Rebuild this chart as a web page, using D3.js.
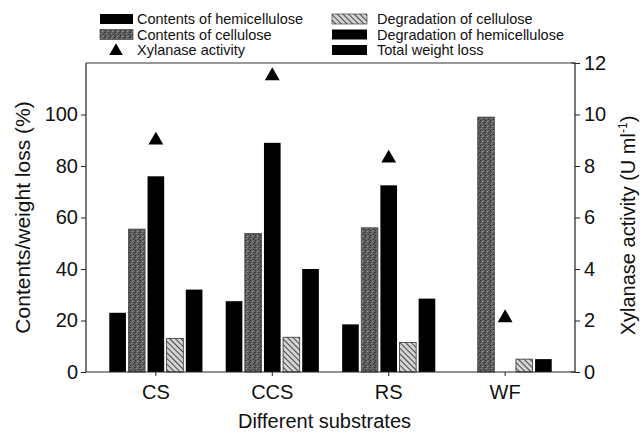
<!DOCTYPE html>
<html><head><meta charset="utf-8">
<script src="https://cdn.jsdelivr.net/npm/d3@7"></script>
<style>body{margin:0;background:#fff}svg{display:block;font-family:"Liberation Sans",Arial,sans-serif}</style>
</head><body><svg id="c" width="643" height="435"></svg>
<script>
const categories = ["CS","CCS","RS","WF"];
const hemiContent = [23, 27.5, 18.5, 0];
const celluloseContent = [55.5, 53.8, 56, 99];
const hemiDegradation = [76, 89, 72.5, 0];
const celluloseDegradation = [13, 13.5, 11.5, 5];
const totalWeightLoss = [32, 40, 28.5, 5];
const xylanase = [9.0, 11.5, 8.3, 2.1];
const leftTicks = [0,20,40,60,80,100];
const rightTicks = [0,2,4,6,8,10,12];

const seriesNames = ["Contents of hemicellulose","Contents of cellulose","Degradation of hemicellulose","Degradation of cellulose","Total weight loss"];
const seriesVals = [hemiContent, celluloseContent, hemiDegradation, celluloseDegradation, totalWeightLoss];
const seriesFill = ["#000","url(#stip)","#000","url(#hatch)","#000"];

const svg = d3.select("#c");
const L = 86, R = 575, T = 63, B = 372;

const defs = svg.append("defs");
const st = defs.append("pattern").attr("id","stip").attr("patternUnits","userSpaceOnUse").attr("width",5).attr("height",5);
st.append("rect").attr("width",5).attr("height",5).attr("fill","#5e5e5e");
[[0,0,"#2a2a2a"],[2,1,"#9a9a9a"],[4,2,"#333"],[1,3,"#8a8a8a"],[3,4,"#303030"],[3,0,"#7a7a7a"],[0,2,"#444"]].forEach(p=>{
  st.append("rect").attr("x",p[0]).attr("y",p[1]).attr("width",1).attr("height",1).attr("fill",p[2]);
});
const ht = defs.append("pattern").attr("id","hatch").attr("patternUnits","userSpaceOnUse").attr("width",4).attr("height",4).attr("patternTransform","rotate(-45)");
ht.append("rect").attr("width",4).attr("height",4).attr("fill","#d4d4d4");
ht.append("line").attr("x1",0).attr("y1",0).attr("x2",0).attr("y2",4).attr("stroke","#222").attr("stroke-width",1.6);

const x = d3.scaleBand().domain(categories).range([L,R]).paddingInner(0.2).paddingOuter(0.2);
const xs = d3.scaleBand().domain(d3.range(5)).range([0,x.bandwidth()]).paddingInner(0.13);
const y = d3.scaleLinear().domain([0,120]).range([B,T]);
const y2 = d3.scaleLinear().domain([0,12]).range([B,T]);

// bars
const g = svg.append("g");
categories.forEach((c,ci)=>{
  seriesVals.forEach((vals,si)=>{
    const v = vals[ci];
    if(v<=0) return;
    g.append("rect").attr("x",x(c)+xs(si)).attr("width",xs.bandwidth())
      .attr("y",y(v)).attr("height",y(0)-y(v)).attr("fill",seriesFill[si])
      .attr("stroke", si===3 ? "#333" : (si===1?"#444":"none")).attr("stroke-width",0.8);
  });
});

// triangles
const tri = d3.symbol().type(d3.symbolTriangle).size(95);
categories.forEach((c,ci)=>{
  svg.append("path").attr("d",tri).attr("fill","#000")
    .attr("transform",`translate(${x(c)+x.bandwidth()/2},${y2(xylanase[ci])})`);
});

// axes
const fs = "20px";
const ax = svg.append("g").attr("transform",`translate(${L},0)`).call(d3.axisLeft(y).tickValues(leftTicks).tickSize(5).tickPadding(3));
const ax2 = svg.append("g").attr("transform",`translate(${R},0)`).call(d3.axisRight(y2).tickValues(rightTicks).tickSize(5).tickPadding(4));
const axb = svg.append("g").attr("transform",`translate(0,${B})`).call(d3.axisBottom(x).tickSize(4).tickPadding(9));
[ax,ax2,axb].forEach(a=>{
  a.selectAll("text").attr("font-size",fs).attr("font-family","Liberation Sans, Arial, sans-serif").attr("fill","#111");
  a.selectAll("line").attr("stroke","#222");
  a.select(".domain").attr("stroke","#222").attr("stroke-width",1.2);
});
ax.select(".domain").attr("d",`M0,${B}V${T}`);
ax2.select(".domain").attr("d",`M-4,${T}H0V${B}H-4`);
axb.select(".domain").attr("d",`M${L},0H${R}`);
svg.append("line").attr("x1",L).attr("x2",R).attr("y1",T).attr("y2",T).attr("stroke","#333").attr("stroke-width",1);

// titles
svg.append("text").attr("transform",`translate(30,${(T+B)/2}) rotate(-90)`).attr("text-anchor","middle")
  .attr("font-size","21px").attr("fill","#111").text("Contents/weight loss (%)");
const rt = svg.append("text").attr("transform",`translate(635,${(T+B)/2+8}) rotate(-90)`).attr("text-anchor","middle")
  .attr("font-size","20px").attr("fill","#111");
rt.append("tspan").text("Xylanase activity (U ml");
rt.append("tspan").attr("font-size","12px").attr("dy","-8").text("-1");
rt.append("tspan").attr("dy","8").text(")");
svg.append("text").attr("x",(L+R)/2-6).attr("y",428).attr("text-anchor","middle").attr("font-size","20px").attr("fill","#111").text("Different substrates");

// legend
const legend = [
  {name:"Contents of hemicellulose", type:"bar", fill:"#000", col:0, row:0},
  {name:"Contents of cellulose", type:"bar", fill:"url(#stip)", col:0, row:1},
  {name:"Xylanase activity", type:"tri", col:0, row:2},
  {name:"Degradation of cellulose", type:"bar", fill:"url(#hatch)", col:1, row:0},
  {name:"Degradation of hemicellulose", type:"bar", fill:"#000", col:1, row:1},
  {name:"Total weight loss", type:"bar", fill:"#000", col:1, row:2}
];
const colX = [100, 332], colText = [137, 377], rowY = [19, 34.5, 50];
legend.forEach(d=>{
  const gx = colX[d.col], gy = rowY[d.row];
  if(d.type==="bar"){
    svg.append("rect").attr("x",gx).attr("y",gy-5).attr("width",d.col?35:33).attr("height",10).attr("fill",d.fill)
      .attr("stroke", d.fill==="#000"?"none":"#444").attr("stroke-width",0.7);
  } else {
    svg.append("path").attr("d",d3.symbol().type(d3.symbolTriangle).size(80)).attr("fill","#000")
      .attr("transform",`translate(${gx+16},${gy+1})`);
  }
  svg.append("text").attr("x",colText[d.col]).attr("y",gy+5).attr("font-size","14.5px").attr("fill","#111").text(d.name);
});
</script></body></html>
